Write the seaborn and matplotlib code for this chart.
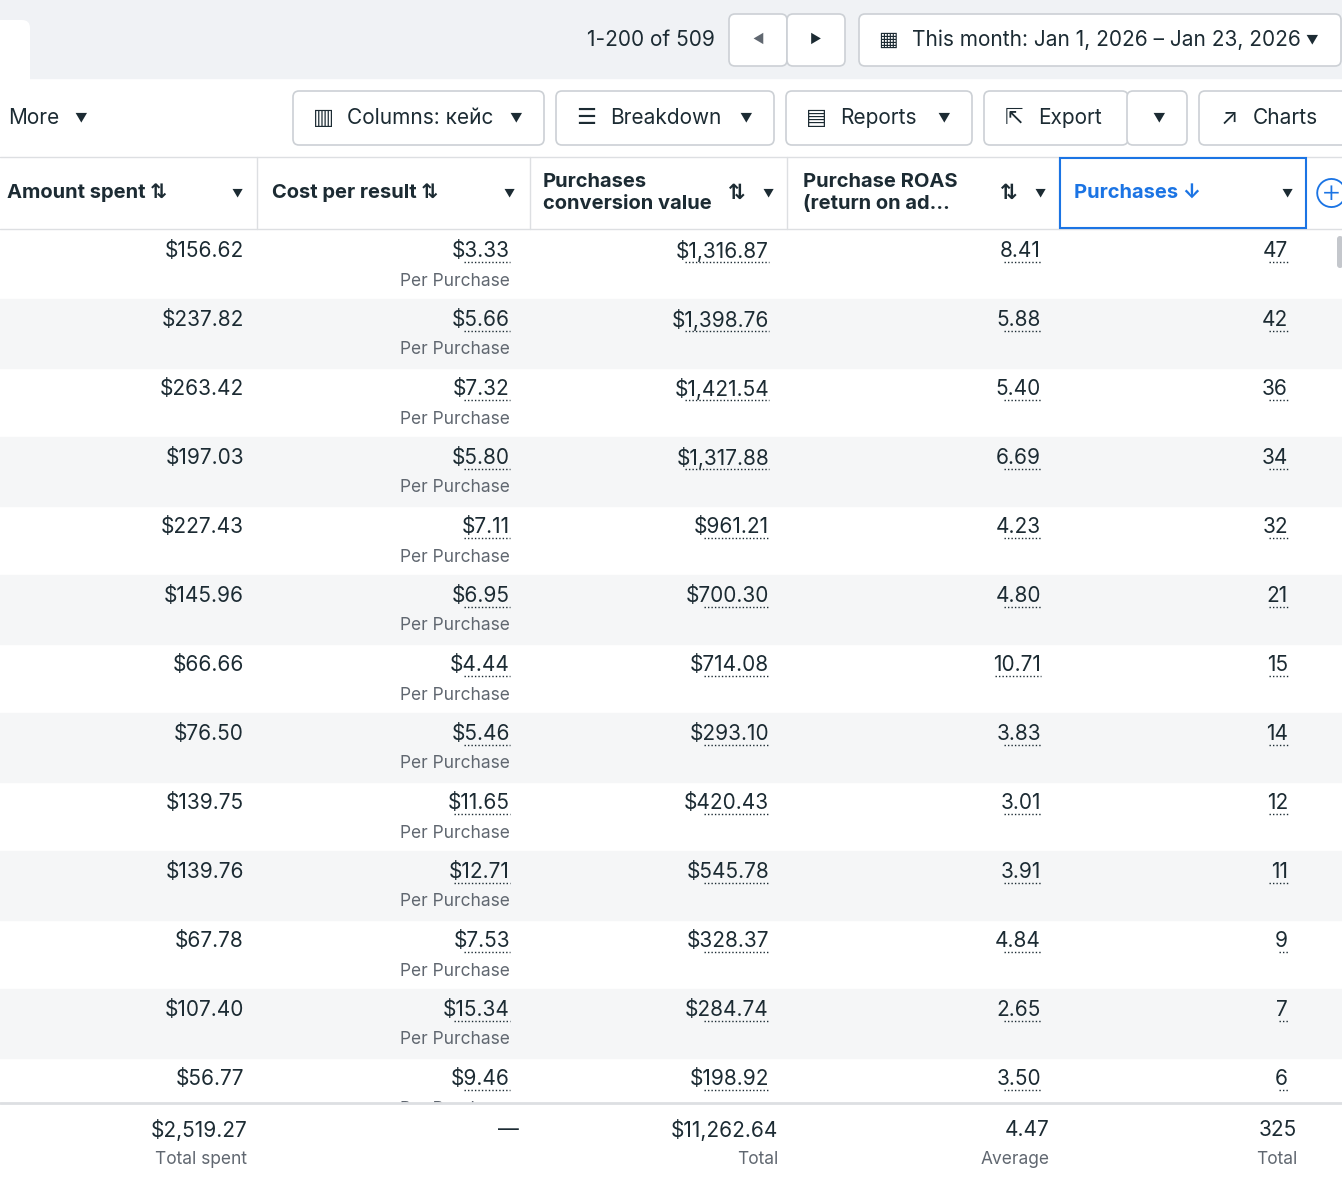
import matplotlib.pyplot as plt
import seaborn as sns
from matplotlib.patches import FancyBboxPatch

sns.set_theme(style="white")
plt.rcParams['font.family'] = ['Inter', 'DejaVu Sans']

amount = ["$156.62", "$237.82", "$263.42", "$197.03", "$227.43", "$145.96", "$66.66",
          "$76.50", "$139.75", "$139.76", "$67.78", "$107.40", "$56.77"]
cost = ["$3.33", "$5.66", "$7.32", "$5.80", "$7.11", "$6.95", "$4.44",
        "$5.46", "$11.65", "$12.71", "$7.53", "$15.34", "$9.46"]
conv_value = ["$1,316.87", "$1,398.76", "$1,421.54", "$1,317.88", "$961.21", "$700.30", "$714.08",
              "$293.10", "$420.43", "$545.78", "$328.37", "$284.74", "$198.92"]
roas = ["8.41", "5.88", "5.40", "6.69", "4.23", "4.80", "10.71",
        "3.83", "3.01", "3.91", "4.84", "2.65", "3.50"]
purchases = ["47", "42", "36", "34", "32", "21", "15", "14", "12", "11", "9", "7", "6"]
totals = ["$2,519.27", "—", "$11,262.64", "4.47", "325"]
total_labels = ["Total spent", "", "Total", "Average", "Total"]

W, H = 1342, 1202
fig = plt.figure(figsize=(W / 100, H / 100), dpi=100)
ax = fig.add_axes([0, 0, 1, 1])
ax.set_xlim(0, W)
ax.set_ylim(H, 0)
ax.axis("off")

dark = "#1c2b33"
grey = "#606770"
blue = "#1b74e4"

# top bar
ax.axhspan(0, 78, color="#f0f2f5", zorder=0)
ax.add_patch(FancyBboxPatch((-20, 20), 50, 70, boxstyle="round,pad=0,rounding_size=8",
                            fc="white", ec="none", zorder=1))
ax.text(715, 40, "1-200 of 509", ha="right", va="center", fontsize=15, color=dark)
for x0, w in [(729, 58), (787, 58), (859, 482)]:
    ax.add_patch(FancyBboxPatch((x0, 14), w, 52, boxstyle="round,pad=0,rounding_size=6",
                                fc="white", ec="#ccd0d5", lw=1.2, zorder=2))
ax.text(758, 40, "◀", ha="center", va="center", fontsize=9, color=grey, zorder=3)
ax.text(816, 40, "▶", ha="center", va="center", fontsize=9, color=dark, zorder=3)
ax.text(912, 40, "This month: Jan 1, 2026 – Jan 23, 2026", ha="left", va="center",
        fontsize=15, color=dark, zorder=3)
ax.text(888, 40, "▦", ha="center", va="center", fontsize=15, color=dark, zorder=3)
ax.text(1312, 40, "▼", ha="center", va="center", fontsize=9, color=dark, zorder=3)

# toolbar
ax.text(8, 118, "More", ha="left", va="center", fontsize=15, color=dark)
ax.text(81, 118, "▼", ha="center", va="center", fontsize=9, color=dark)
buttons = [(293, 251, "▥", "Columns: кейс", True), (556, 218, "☰", "Breakdown", True),
           (786, 186, "▤", "Reports", True), (984, 144, "⇱", "Export", False),
           (1127, 60, "", "", True), (1199, 150, "↗", "Charts", False)]
for x0, w, icon, label, arrow in buttons:
    ax.add_patch(FancyBboxPatch((x0, 91), w, 54, boxstyle="round,pad=0,rounding_size=6",
                                fc="white", ec="#ccd0d5", lw=1.2, zorder=2))
    if label:
        ax.text(x0 + 30, 118, icon, ha="center", va="center", fontsize=16, color=dark, zorder=3)
        ax.text(x0 + 54, 118, label, ha="left", va="center", fontsize=15, color=dark, zorder=3)
    if arrow:
        ax.text(x0 + w - 28, 118, "▼", ha="center", va="center", fontsize=9, color=dark, zorder=3)

# header
ax.axhline(157, color="#dddfe2", lw=1)
ax.axhline(229, color="#dddfe2", lw=1)
for x in [257, 530, 787, 1059]:
    ax.plot([x, x], [157, 229], color="#dddfe2", lw=1)
ax.add_patch(plt.Rectangle((1060, 158), 246, 70, fc="none", ec=blue, lw=1.5, zorder=3))
hy = 193
ax.text(7, hy, "Amount spent ⇅", ha="left", va="center", fontsize=14.5, weight="bold", color=dark)
ax.text(237, hy, "▼", ha="center", va="center", fontsize=8, color=dark)
ax.text(272, hy, "Cost per result ⇅", ha="left", va="center", fontsize=14.5, weight="bold", color=dark)
ax.text(509, hy, "▼", ha="center", va="center", fontsize=8, color=dark)
ax.text(543, hy, "Purchases\nconversion value", ha="left", va="center", fontsize=14.5,
        weight="bold", color=dark, linespacing=1.3)
ax.text(737, hy, "⇅", ha="center", va="center", fontsize=15, weight="bold", color=dark)
ax.text(768, hy, "▼", ha="center", va="center", fontsize=8, color=dark)
ax.text(803, hy, "Purchase ROAS\n(return on ad…", ha="left", va="center", fontsize=14.5,
        weight="bold", color=dark, linespacing=1.3)
ax.text(1009, hy, "⇅", ha="center", va="center", fontsize=15, weight="bold", color=dark)
ax.text(1040, hy, "▼", ha="center", va="center", fontsize=8, color=dark)
ax.text(1074, hy, "Purchases ↓", ha="left", va="center", fontsize=14.5, weight="bold", color=blue)
ax.text(1287, hy, "▼", ha="center", va="center", fontsize=8, color=dark)
ax.text(1331, hy, "⊕", ha="center", va="center", fontsize=16, color=blue)

# scroll indicator
ax.add_patch(FancyBboxPatch((1337, 236), 6, 32, boxstyle="round,pad=0,rounding_size=3",
                            fc="#c4c7cc", ec="none", zorder=3))

# rows
top, rh = 230, 69
fs = 15
for i in range(len(amount)):
    y0 = top + i * rh
    if i % 2 == 1:
        ax.axhspan(y0, y0 + rh, color="#f5f6f7", zorder=0)
    y = y0 + 21
    ax.text(244, y, amount[i], ha="right", va="center", fontsize=fs, color=dark)
    ax.text(510, y + 30, "Per Purchase", ha="right", va="center", fontsize=12.5, color=grey)
    for xr, s in [(510, cost[i]), (769, conv_value[i]), (1041, roas[i]), (1288, purchases[i])]:
        t = ax.text(xr, y, s, ha="right", va="center", fontsize=fs, color=dark)
        w = len(s) * 9.3
        ax.plot([xr - w, xr], [y + 11, y + 11], color=dark, lw=1, ls=(0, (1, 1.5)))

# footer
ax.axhspan(1103, H, color="white", zorder=4)
ax.axhline(1103, color="#dddfe2", lw=2, zorder=5)
for xr, s, lab in zip([247, 519, 778, 1050, 1297], totals, total_labels):
    ax.text(xr, 1130, s, ha="right", va="center", fontsize=15, color=dark, zorder=6)
    ax.text(xr, 1159, lab, ha="right", va="center", fontsize=12.5, color=grey, zorder=6)

fig.savefig("out.png", dpi=100)
